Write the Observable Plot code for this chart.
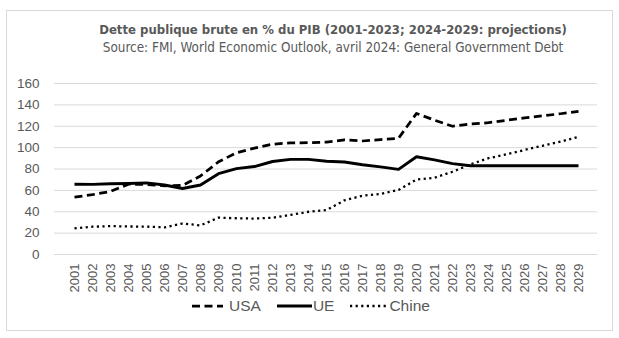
<!DOCTYPE html>
<html><head><meta charset="utf-8">
<script src="https://cdn.jsdelivr.net/npm/d3@7"></script>
<script src="https://cdn.jsdelivr.net/npm/@observablehq/plot@0.6"></script>
<style>
body{margin:0;background:#fff;}
#wrap{position:relative;width:619px;height:338px;overflow:hidden;font-family:"Liberation Sans",Arial,sans-serif;color:#595959;}
#frame{position:absolute;left:6px;top:10px;width:607px;height:321px;border:1px solid #d9d9d9;box-sizing:border-box;}
.t{position:absolute;left:333px;transform:translateX(-50%);white-space:nowrap;font-family:"DejaVu Sans Condensed","Liberation Sans Narrow",sans-serif;}
#title{top:22px;font-weight:bold;font-size:13px;}
#sub{top:40px;font-size:13.4px;}
#chart{position:absolute;left:0;top:0;}
#legend{position:absolute;top:297px;left:192px;display:flex;align-items:center;font-size:15.5px;white-space:nowrap;}
#legend svg{display:block;}
</style></head>
<body><div id="wrap">
<div id="frame"></div>
<div class="t" id="title">Dette publique brute en % du PIB (2001-2023; 2024-2029: projections)</div>
<div class="t" id="sub">Source: FMI, World Economic Outlook, avril 2024: General Government Debt</div>
<div id="chart"></div>
<div id="legend"></div>
</div>
<script>
const years = [2001,2002,2003,2004,2005,2006,2007,2008,2009,2010,2011,2012,2013,2014,2015,2016,2017,2018,2019,2020,2021,2022,2023,2024,2025,2026,2027,2028,2029];
const usa   = [53.6,56.0,59.0,65.8,65.5,64.3,64.6,73.5,86.7,95.2,99.6,103.2,104.4,104.6,105.1,107.2,106.2,107.5,108.7,132.0,125.7,120.0,122.1,123.3,125.6,127.8,129.7,131.7,133.9];
const ue    = [65.7,65.6,66.2,66.5,67.0,65.0,61.8,65.0,75.6,80.4,82.3,87.0,89.0,89.0,87.3,86.5,84.0,82.0,79.6,91.5,88.6,85.0,83.1,83.0,83.0,83.0,83.0,83.0,83.0];
const chine = [24.4,26.0,26.6,26.2,26.1,25.4,29.0,27.2,34.5,33.9,33.6,34.4,37.0,40.0,41.5,50.7,55.0,56.7,60.4,70.1,71.8,77.4,84.4,90.1,93.8,97.8,101.7,105.6,110.1];
const yTicks = [0,20,40,60,80,100,120,140,160];
const series = [
  {name:"USA", values:usa, dash:"8,4.5", width:2.75},
  {name:"UE", values:ue, dash:null, width:2.9},
  {name:"Chine", values:chine, dash:"2.2,3.4", width:2.3}
];

const plot = Plot.plot({
  width:619, height:338,
  marginTop:83, marginBottom:84, marginLeft:54, marginRight:22,
  style:{color:"#595959", fontSize:"13px", fontFamily:"'Liberation Sans',Arial,sans-serif", background:"transparent"},
  x:{type:"point", domain:years, padding:0.5, label:null},
  y:{domain:[0,160], label:null},
  marks:[
    Plot.ruleY(yTicks, {stroke:"#d9d9d9", strokeWidth:1}),
    Plot.axisY({ticks:yTicks, tickSize:0, tickPadding:15, fontSize:13.5, label:null}),
    Plot.axisX({tickSize:0, tickRotate:-90, tickPadding:9, fontSize:13, label:null, tickFormat:d=>String(d)}),
    ...series.map(s => Plot.lineY(s.values, {x:(d,i)=>years[i], y:d=>d, stroke:"black", strokeWidth:s.width, strokeDasharray:s.dash, strokeLinecap:"butt", strokeLinejoin:"round"}))
  ]
});
document.getElementById("chart").appendChild(plot);

const leg = d3.select("#legend");
const samp = [{w:31,gap:6},{w:35,gap:1},{w:36,gap:3}];
series.forEach((s,i)=>{
  const item = leg.append("div").style("display","flex").style("align-items","center").style("margin-right", i<2 ? "16px":"0");
  const sv = item.append("svg").attr("width", samp[i].w).attr("height", 10);
  sv.append("line").attr("x1",0).attr("x2",samp[i].w).attr("y1",5).attr("y2",5)
    .attr("stroke","black").attr("stroke-width", s.width).attr("stroke-dasharray", s.dash);
  item.append("span").style("margin-left", samp[i].gap+"px").text(s.name);
});
</script>
</body></html>
